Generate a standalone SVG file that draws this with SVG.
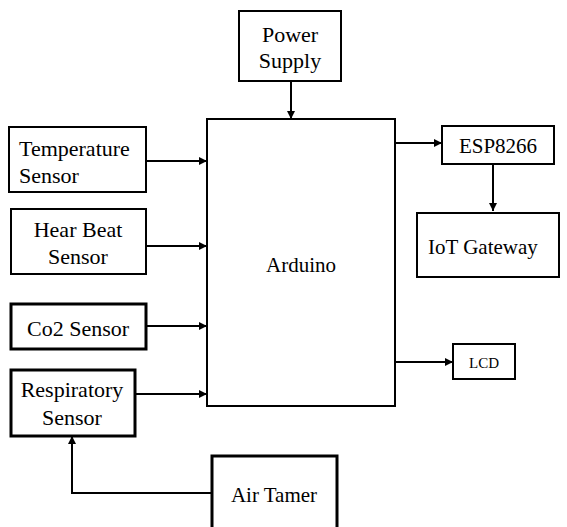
<svg xmlns="http://www.w3.org/2000/svg" width="567" height="527" viewBox="0 0 567 527">
<style>
.box{fill:#fff;stroke:#000;stroke-width:2}
.thick{stroke-width:3}
.c{text-anchor:middle}
.cn{fill:none;stroke:#000;stroke-width:2;marker-end:url(#ah)}
</style>
<defs>
<marker id="ah" viewBox="0 0 10 10" refX="10" refY="5" markerWidth="4" markerHeight="4" orient="auto" markerUnits="strokeWidth">
<path d="M0,0 L10,5 L0,10 z" fill="#000"/>
</marker>
</defs>
<g font-family="'Liberation Serif', serif" font-size="22" fill="#000">
<g id="power"><rect class="box" x="239" y="11" width="102" height="70"/><text class="c" x="290" y="42">Power</text><text class="c" x="290" y="68">Supply</text></g>
<g id="arduino"><rect class="box" x="207" y="119" width="188" height="287"/><text class="c" x="301" y="272" font-size="21">Arduino</text></g>
<g id="temp"><rect class="box" x="9" y="127" width="137" height="65"/><text x="19" y="156">Temperature</text><text x="19" y="183">Sensor</text></g>
<g id="heart"><rect class="box" x="11" y="209" width="135" height="65"/><text class="c" x="78" y="237">Hear Beat</text><text class="c" x="78" y="264">Sensor</text></g>
<g id="co2"><rect class="box thick" x="11" y="304" width="135" height="45"/><text class="c" x="78" y="336">Co2 Sensor</text></g>
<g id="resp"><rect class="box thick" x="11" y="370" width="124" height="66"/><text class="c" x="72" y="397">Respiratory</text><text class="c" x="72" y="425">Sensor</text></g>
<g id="airtamer"><rect class="box thick" x="212" y="456" width="125" height="80"/><text class="c" x="274" y="502" font-size="21">Air Tamer</text></g>
<g id="esp"><rect class="box" x="442" y="126" width="112" height="38"/><text class="c" x="498" y="153" font-size="21">ESP8266</text></g>
<g id="iot"><rect class="box" x="417" y="213" width="142" height="64"/><text x="428" y="254" font-size="21">IoT Gateway</text></g>
<g id="lcd"><rect class="box" x="453" y="344" width="62" height="35"/><text class="c" x="484" y="368" font-size="15">LCD</text></g>
</g>
<g id="connectors">
<path class="cn" d="M291,81 V119"/>
<path class="cn" d="M146,161 H207"/>
<path class="cn" d="M146,246 H207"/>
<path class="cn" d="M146,326 H207"/>
<path class="cn" d="M135,394 H207"/>
<path class="cn" d="M212,493 H72 V436"/>
<path class="cn" d="M395,143 H442"/>
<path class="cn" d="M493,164 V211"/>
<path class="cn" d="M395,362 H453"/>
</g>
</svg>
